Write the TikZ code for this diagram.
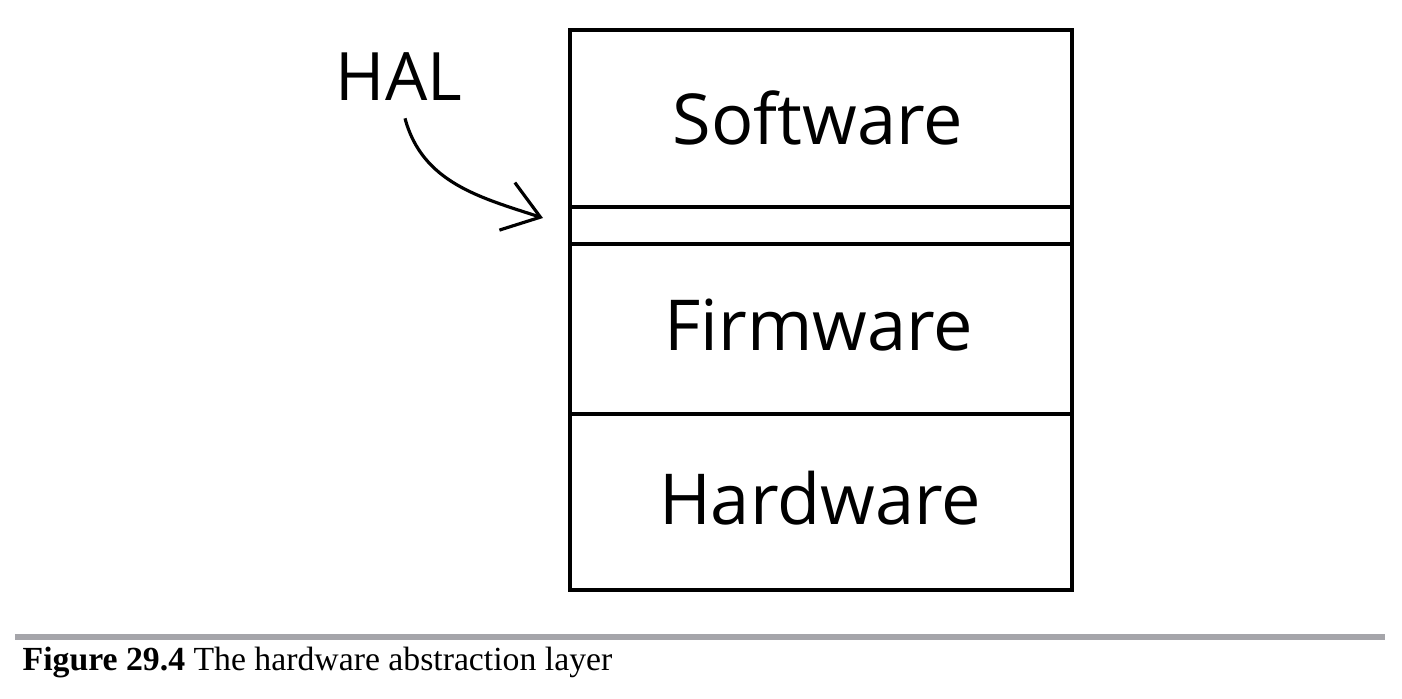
\documentclass[tikz,border=0pt]{standalone}
\usepackage{fontspec}
\setmainfont{Liberation Serif}
\newfontfamily\handfont{Open Sans}
\usetikzlibrary{arrows.meta}

\tikzset{
    layer/.style={font=\handfont\fontsize{20}{24}\selectfont},
    layerline/.style={line width=0.9pt}
}
\definecolor{rulegray}{RGB}{165,165,170}

\begin{document}
\begin{tikzpicture}
    \useasboundingbox (0,0) rectangle (14.02,6.98);

    % Dibujar la pila de capas
    \draw[layerline] (5.70,1.08) rectangle (10.72,6.68);
    \draw[layerline] (5.70,4.91) -- (10.72,4.91);
    \draw[layerline] (5.70,4.54) -- (10.72,4.54);
    \draw[layerline] (5.70,2.84) -- (10.72,2.84);

    % Nombres de las capas
    \node[layer] (software) at (8.18,5.80) {Software};
    \node[layer] (firmware) at (8.19,3.73) {Firmware};
    \node[layer] (hardware) at (8.20,2.00) {Hardware};

    % Etiqueta HAL y flecha
    \node[layer, font=\handfont\fontsize{19}{22}\selectfont] (hal) at (3.99,6.21) {HAL};
    \coordinate (halgap) at (5.43,4.80);
    \draw[line width=0.9pt, -{Straight Barb[length=3.5mm, width=5mm]}]
        (hal.south) ++(0.06,-0.05) to[out=-75, in=162] (halgap);

    % Pie de figura
    \draw[rulegray, line width=1.5pt] (0.15,0.61) -- (13.85,0.61);
    \node[anchor=base west, inner sep=0pt, font=\fontsize{9.6}{11}\selectfont] (caption) at (0.22,0.27)
        {\textbf{Figure 29.4} The hardware abstraction layer};

\end{tikzpicture}
\end{document}
